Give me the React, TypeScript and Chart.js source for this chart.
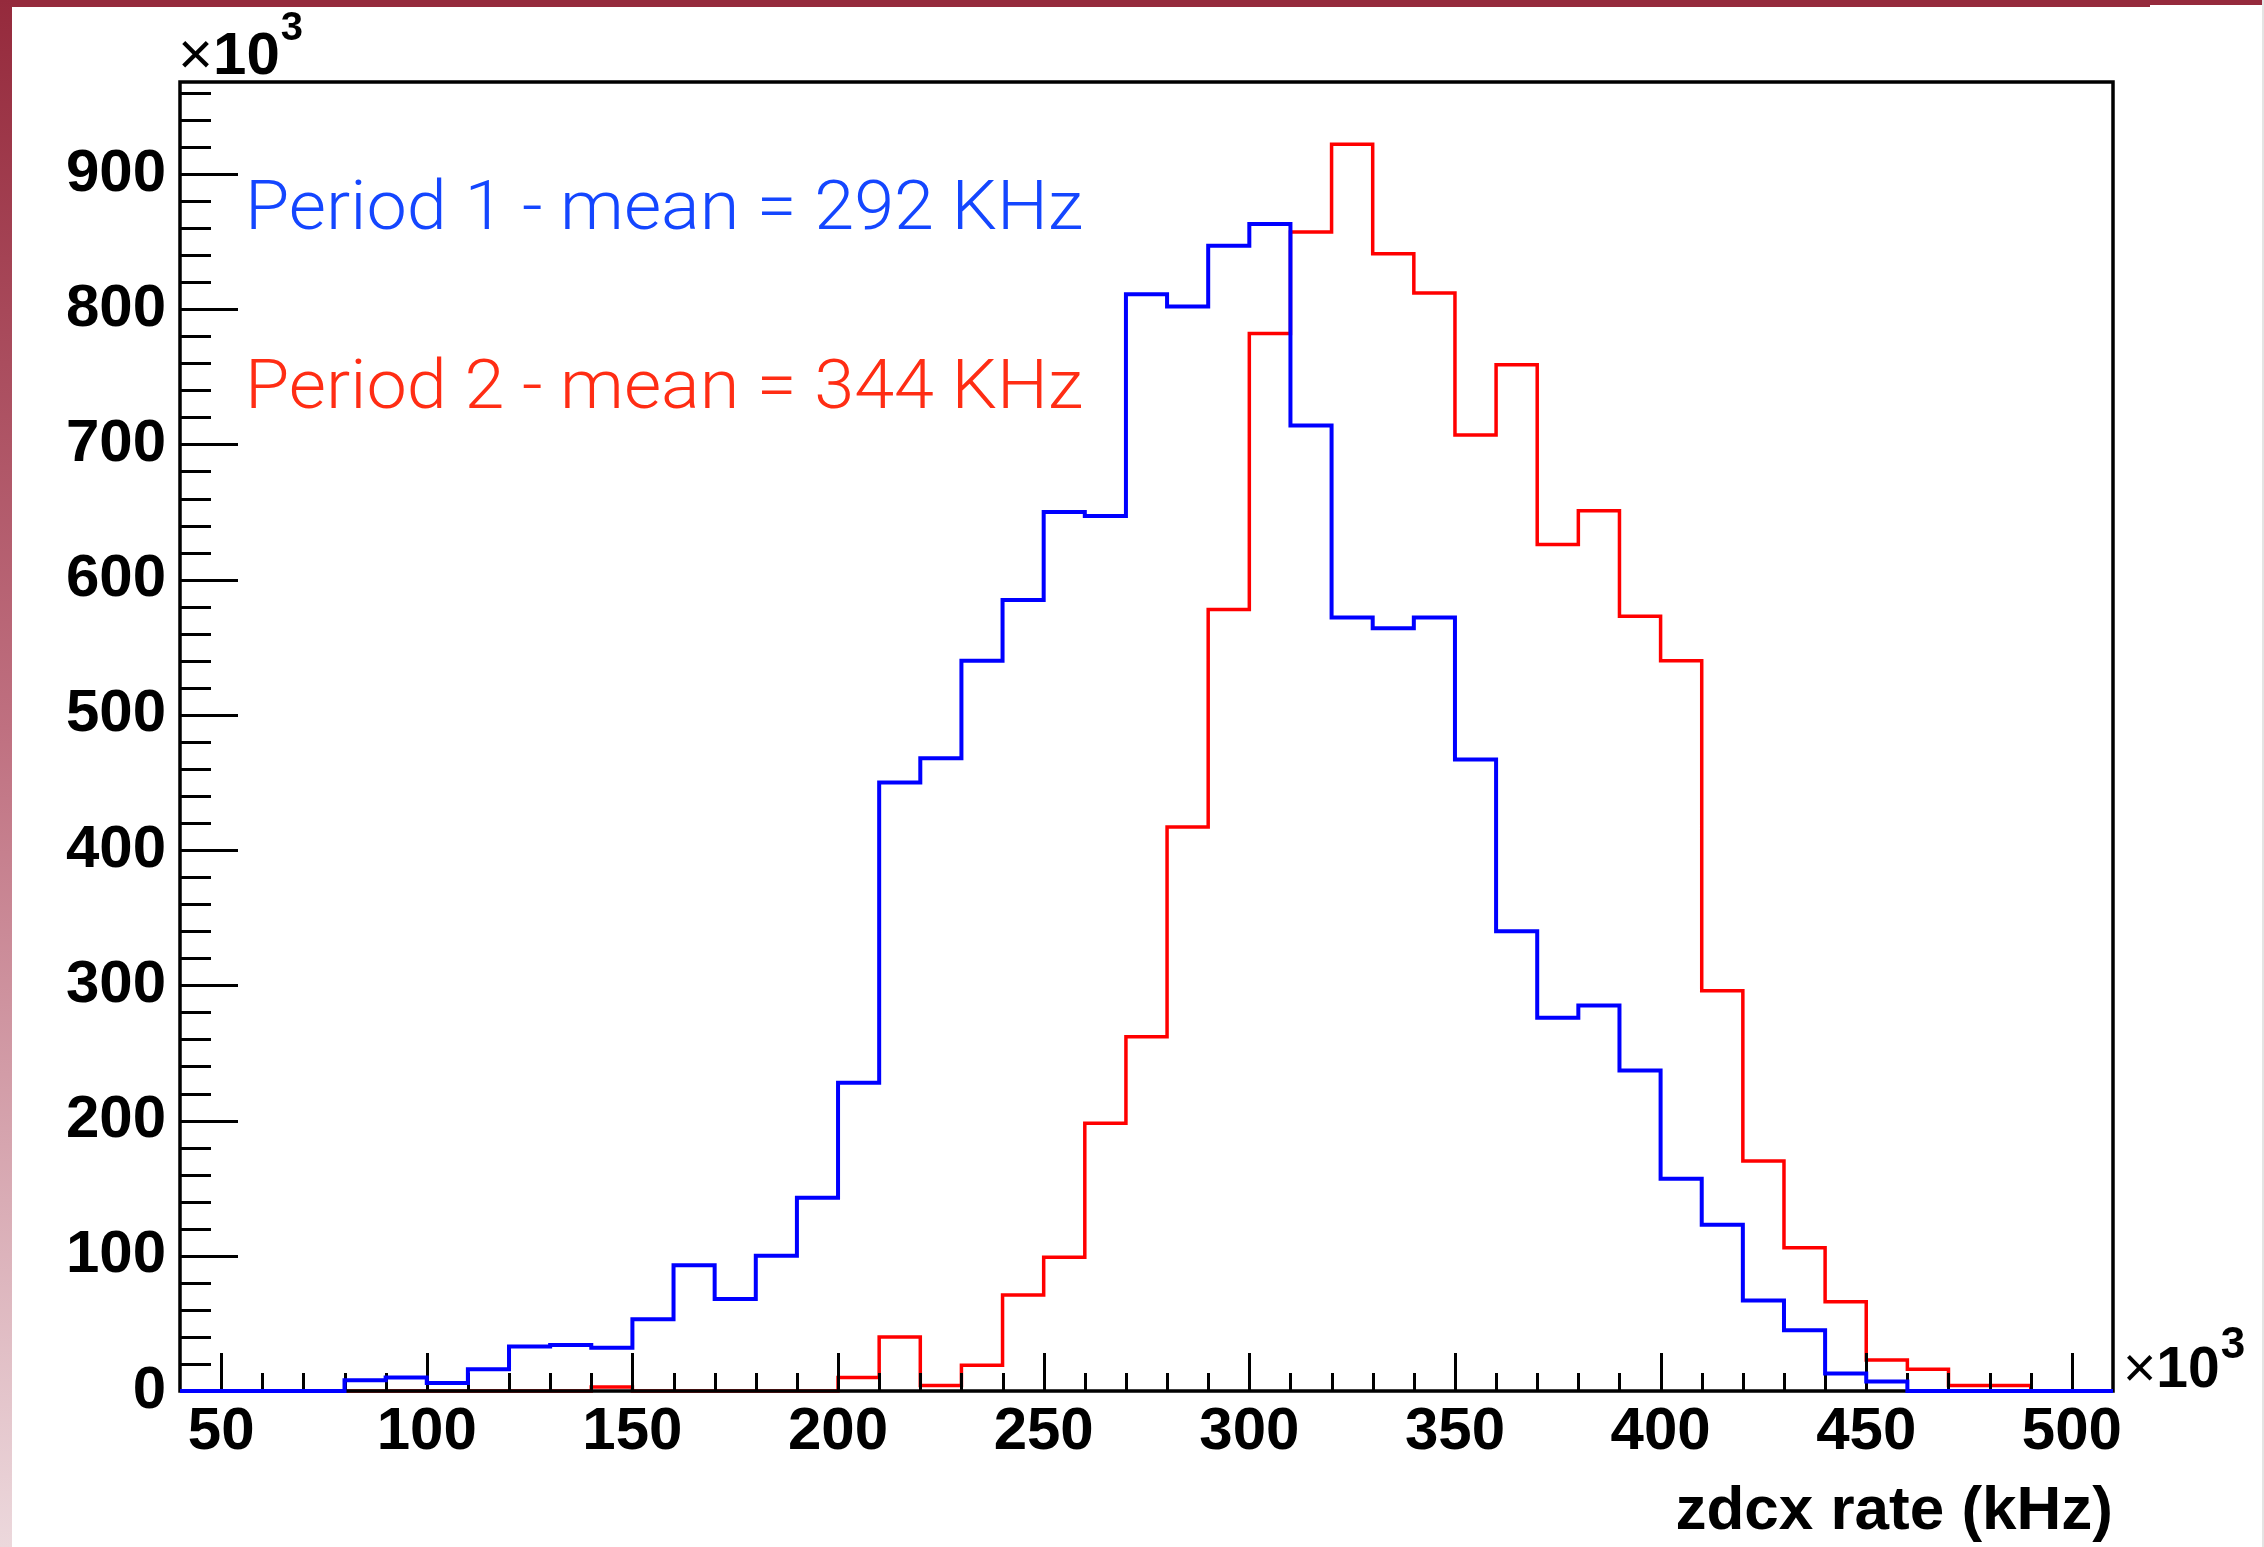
import React, { useEffect, useRef } from 'react';
import { Chart, registerables } from 'chart.js';

Chart.register(...registerables);

// Lower edges of the 10 kHz bins (values in units of 10^3 Hz)
const binLowEdges = [
  40, 50, 60, 70, 80, 90, 100, 110, 120, 130, 140, 150, 160, 170, 180, 190,
  200, 210, 220, 230, 240, 250, 260, 270, 280, 290, 300, 310, 320, 330, 340,
  350, 360, 370, 380, 390, 400, 410, 420, 430, 440, 450, 460, 470, 480, 490, 500,
];
const lastBinUpperEdge = 510;

// Entries per bin (units of 10^3)
const period1Counts = [
  0, 0, 0, 0, 8, 10, 6, 16, 33, 34, 32, 53, 93, 68, 100, 143,
  228, 450, 468, 540, 585, 650, 647, 811, 802, 847, 863, 714, 572, 564, 572,
  467, 340, 276, 285, 237, 157, 123, 67, 45, 13, 7, 0, 0, 0, 0, 0,
];
const period2Counts = [
  0, 0, 0, 0, 0, 0, 0, 0, 0, 0, 3, 0, 0, 0, 0, 0,
  10, 40, 4, 19, 71, 99, 198, 262, 417, 578, 782, 857, 922, 841, 812,
  707, 759, 626, 651, 573, 540, 296, 170, 106, 66, 23, 16, 4, 4, 0, 0,
];

const xAxisMin = 40;
const xAxisMax = 510;
const yAxisMax = 968;
const xMajorStep = 50;
const xMinorStep = 10;
const yMajorStep = 100;
const yMinorStep = 20;

const seriesNames = ['Period 1', 'Period 2'];
const legendLines = ['Period 1 - mean = 292 KHz', 'Period 2 - mean = 344 KHz'];
const xAxisTitle = 'zdcx rate (kHz)';
const exponentBase = '10';
const exponentPower = '3';

const BLUE_LINE = '#0000ff';
const RED_LINE = '#ff0000';
const BLUE_TEXT = '#1446ff';
const RED_TEXT = '#ff2d14';

function toStepPoints(counts: number[]) {
  const pts = binLowEdges.map((x, i) => ({ x, y: counts[i] }));
  pts.push({ x: lastBinUpperEdge, y: counts[counts.length - 1] });
  return pts;
}

const rootStylePlugin = {
  id: 'rootStyle',
  afterDatasetDraw(chart: any, args: any) {
    // Frame and ticks are drawn after the red histogram, before the blue one
    if (args.index !== 1) return;
    const { ctx, chartArea: a, scales } = chart;
    const xs = scales.x;
    const ys = scales.y;
    ctx.save();
    ctx.strokeStyle = '#000';
    ctx.lineCap = 'butt';
    ctx.lineWidth = 3;
    ctx.beginPath();
    for (let v = xAxisMin + xMinorStep; v < xAxisMax; v += xMinorStep) {
      const px = Math.round(xs.getPixelForValue(v)) + 0.5;
      const len = v % xMajorStep === 0 ? 38 : 18;
      ctx.moveTo(px, a.bottom);
      ctx.lineTo(px, a.bottom - len);
    }
    for (let v = 0; v < yAxisMax; v += yMinorStep) {
      const py = Math.round(ys.getPixelForValue(v)) + 0.5;
      const len = v % yMajorStep === 0 ? 58 : 31;
      ctx.moveTo(a.left, py);
      ctx.lineTo(a.left + len, py);
    }
    ctx.stroke();
    ctx.lineWidth = 3.5;
    ctx.strokeRect(a.left, a.top, a.right - a.left, a.bottom - a.top);
    ctx.restore();
  },
  afterDraw(chart: any) {
    const { ctx, chartArea: a } = chart;
    ctx.save();
    ctx.textAlign = 'left';
    ctx.textBaseline = 'alphabetic';

    // legend-like annotations, fitted to the reference width
    const legendFont = '300 68px Roboto, "Liberation Sans", sans-serif';
    const legendWidth = 838;
    const drawLegend = (text: string, color: string, x: number, baseline: number) => {
      ctx.save();
      ctx.font = legendFont;
      ctx.fillStyle = color;
      const w = ctx.measureText(text).width || legendWidth;
      const sx = legendWidth / w;
      ctx.translate(x, baseline);
      ctx.scale(sx, 1);
      ctx.fillText(text, 0, 0);
      ctx.restore();
    };
    drawLegend(legendLines[0], BLUE_TEXT, 245, 229);
    drawLegend(legendLines[1], RED_TEXT, 245, 408);

    // exponent labels
    ctx.fillStyle = '#000';
    const drawExp = (x: number, baseline: number, size: number, supSize: number, supTop: number) => {
      ctx.font = `${size}px "Liberation Sans", sans-serif`;
      ctx.fillText('\u00d7', x, baseline);
      const w1 = ctx.measureText('\u00d7').width;
      ctx.font = `bold ${size}px "Liberation Sans", sans-serif`;
      ctx.fillText(exponentBase, x + w1, baseline);
      const w2 = ctx.measureText(exponentBase).width;
      ctx.font = `bold ${supSize}px "Liberation Sans", sans-serif`;
      ctx.fillText(exponentPower, x + w1 + w2 + 1, supTop);
    };
    drawExp(a.left - 2, 74, 60, 40, 40);
    drawExp(a.right + 10, 1387, 57, 44, 1358);
    ctx.restore();
  },
};

export default function App() {
  const canvasRef = useRef<HTMLCanvasElement | null>(null);

  useEffect(() => {
    const canvas = canvasRef.current;
    if (!canvas) return;
    const tickFont = { family: '"Liberation Sans", Arial, sans-serif', weight: 'bold' as const, size: 60, lineHeight: 1 };
    const chart = new Chart(canvas, {
      type: 'line',
      data: {
        datasets: [
          {
            label: seriesNames[0],
            data: toStepPoints(period1Counts),
            borderColor: BLUE_LINE,
            borderWidth: 4,
            pointRadius: 0,
            stepped: 'before',
            fill: false,
            borderJoinStyle: 'miter',
            clip: 6,
          } as any,
          {
            label: seriesNames[1],
            data: toStepPoints(period2Counts),
            borderColor: RED_LINE,
            borderWidth: 3.5,
            pointRadius: 0,
            stepped: 'before',
            fill: false,
            borderJoinStyle: 'miter',
            clip: 6,
          } as any,
        ],
      },
      options: {
        animation: false,
        responsive: false,
        maintainAspectRatio: false,
        layout: { padding: { left: 0, top: 82, right: 151, bottom: 0 } },
        plugins: {
          legend: { display: false },
          tooltip: { enabled: false },
          title: { display: false },
        },
        scales: {
          x: {
            type: 'linear',
            min: xAxisMin,
            max: xAxisMax,
            grid: { display: false, drawTicks: false },
            border: { display: false },
            ticks: {
              stepSize: xMajorStep,
              includeBounds: false,
              autoSkip: false,
              maxRotation: 0,
              padding: 11,
              color: '#000',
              font: tickFont,
            },
            title: {
              display: true,
              text: xAxisTitle,
              align: 'end',
              color: '#000',
              font: { family: '"Liberation Sans", Arial, sans-serif', weight: 'bold', size: 62, lineHeight: 1 },
              padding: { top: 0, bottom: 4 },
            },
            afterFit: (s: any) => {
              s.height = 156;
            },
          },
          y: {
            type: 'linear',
            min: 0,
            max: yAxisMax,
            grid: { display: false, drawTicks: false },
            border: { display: false },
            ticks: {
              stepSize: yMajorStep,
              includeBounds: false,
              padding: 14,
              color: '#000',
              font: tickFont,
            },
            afterFit: (s: any) => {
              s.width = 180;
            },
          },
        },
      } as any,
      plugins: [rootStylePlugin],
    });
    return () => {
      chart.destroy();
    };
  }, []);

  return (
    <div style={{ position: 'fixed', left: 0, top: 0, width: 2264, height: 1547, background: '#fff', overflow: 'hidden' }}>
      <canvas ref={canvasRef} width={2264} height={1547} style={{ position: 'absolute', left: 0, top: 0, width: 2264, height: 1547 }} />
      <div style={{ position: 'absolute', left: 0, top: 0, width: 2150, height: 7, background: '#952a3c' }} />
      <div style={{ position: 'absolute', left: 2150, top: 0, width: 112, height: 5, background: '#952a3c' }} />
      <div
        style={{
          position: 'absolute',
          left: 0,
          top: 0,
          width: 12,
          height: 1547,
          background: 'linear-gradient(to bottom, #952a3c 0%, #bf7080 47%, #ecd8dc 100%)',
        }}
      />
      <div style={{ position: 'absolute', left: 2262, top: 0, width: 2, height: 1547, background: '#e4e4e4' }} />
    </div>
  );
}
